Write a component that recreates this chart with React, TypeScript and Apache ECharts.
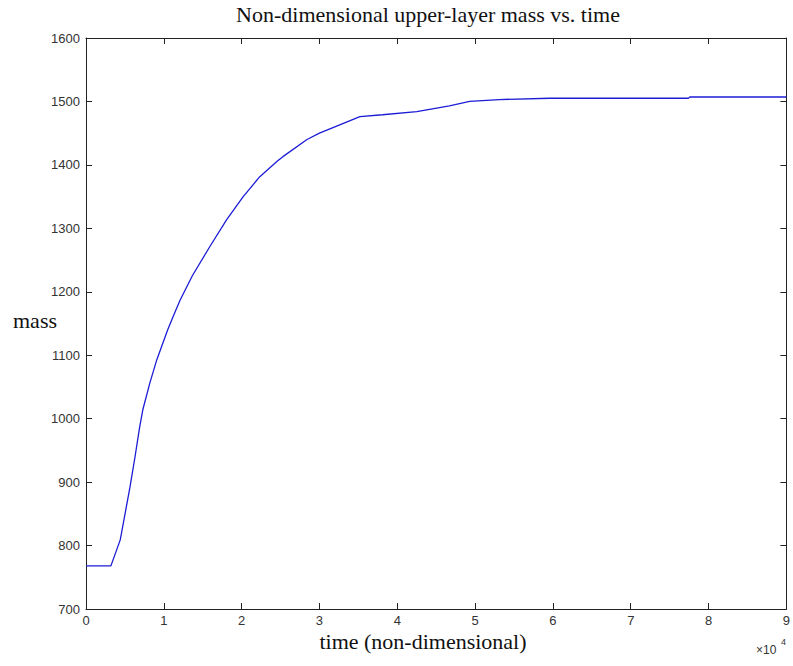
import React, { useEffect, useRef } from "react";
import * as echarts from "echarts";

const timeValues = [0, 0.32, 0.44, 0.565, 0.63, 0.69, 0.73, 0.82, 0.91, 1.05, 1.12, 1.21, 1.37, 1.59, 1.81, 2.02, 2.23, 2.46, 2.53, 2.84, 3.0, 3.26, 3.52, 3.81, 4.25, 4.67, 4.93, 5.31, 5.96, 7.74, 7.76, 9];
const massValues = [768, 768, 809, 892, 940, 987, 1014, 1056, 1093, 1140, 1161, 1187, 1226, 1271, 1314, 1350, 1381, 1406, 1413, 1440, 1450, 1463, 1476, 1479, 1484, 1493, 1500, 1503, 1505, 1505, 1507, 1507];

const titleText = "Non-dimensional upper-layer mass vs. time";
const xLabelText = "time (non-dimensional)";
const yLabelText = "mass";

export default function App() {
  const ref = useRef<HTMLDivElement>(null);
  useEffect(() => {
    if (!ref.current) return;
    const chart = echarts.init(ref.current, null, { renderer: "svg" });
    const mkLine = () => ({ show: true, onZero: false, lineStyle: { color: "#222", width: 1 } });
    const mkTick = () => ({ show: true, inside: true, interval: 0, length: 6, lineStyle: { color: "#222", width: 1, opacity: 1 } });
    const labelStyle = { color: "#333", fontSize: 13, fontFamily: "Liberation Sans, Arial, sans-serif", formatter: (v: number) => String(v) };
    chart.setOption({
      animation: false,
      backgroundColor: "#fff",
      grid: { left: 86, right: 5, top: 38, bottom: 57, containLabel: false },
      xAxis: [
        {
          type: "value", min: 0, max: 9, interval: 1, position: "bottom",
          axisLine: mkLine(), axisTick: mkTick(), splitLine: { show: false },
          axisLabel: { ...labelStyle, margin: 5 },
        },
        {
          type: "value", min: 0, max: 9, interval: 1, position: "top",
          axisLine: mkLine(), axisTick: mkTick(), splitLine: { show: false },
          axisLabel: { show: false },
        },
      ],
      yAxis: [
        {
          type: "value", min: 700, max: 1600, interval: 100, position: "left",
          axisLine: mkLine(), axisTick: mkTick(), splitLine: { show: false },
          axisLabel: { ...labelStyle, margin: 6 },
        },
        {
          type: "value", min: 700, max: 1600, interval: 100, position: "right",
          axisLine: mkLine(), axisTick: mkTick(), splitLine: { show: false },
          axisLabel: { show: false },
        },
      ],
      series: [
        {
          type: "line",
          data: timeValues.map((t, i) => [t, massValues[i]]),
          showSymbol: false,
          smooth: false,
          lineStyle: { color: "#1c1cd6", width: 1.3 },
          xAxisIndex: 0,
          yAxisIndex: 0,
        },
      ],
      graphic: [
        {
          type: "text", x: 428, y: 14,
          style: { text: titleText, font: "22px 'Liberation Serif', 'Times New Roman', serif", fill: "#111", align: "center", verticalAlign: "middle" },
        },
        {
          type: "text", x: 423, y: 641,
          style: { text: xLabelText, font: "22px 'Liberation Serif', 'Times New Roman', serif", fill: "#111", align: "center", verticalAlign: "middle" },
        },
        {
          type: "text", x: 13, y: 320,
          style: { text: yLabelText, font: "22px 'Liberation Serif', 'Times New Roman', serif", fill: "#111", align: "left", verticalAlign: "middle" },
        },
        {
          type: "text", x: 756, y: 650,
          style: { text: "\u00d710", font: "12px 'Liberation Sans', Arial, sans-serif", fill: "#333", align: "left", verticalAlign: "middle" },
        },
        {
          type: "text", x: 781, y: 642,
          style: { text: "4", font: "9px 'Liberation Sans', Arial, sans-serif", fill: "#333", align: "left", verticalAlign: "middle" },
        },
      ],
    });
    return () => chart.dispose();
  }, []);
  return <div ref={ref} style={{ position: "fixed", left: 0, top: 0, width: 793, height: 666 }} />;
}
